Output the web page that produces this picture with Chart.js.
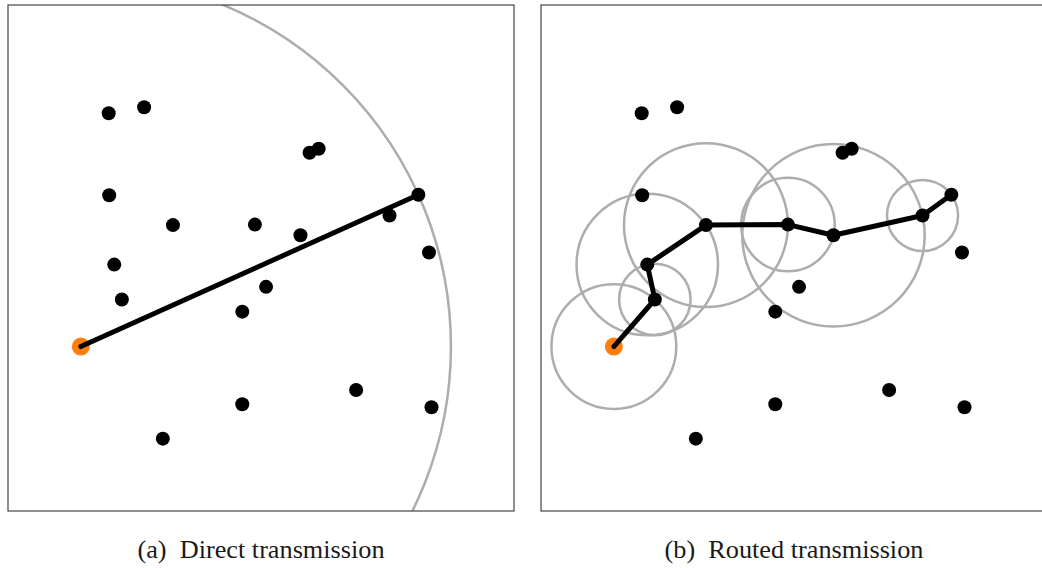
<!DOCTYPE html>
<html>
<head>
<meta charset="utf-8">
<script src="https://cdn.jsdelivr.net/npm/chart.js@4/dist/chart.umd.min.js"></script>
<style>
  html, body { margin: 0; padding: 0; background: #fff; overflow: hidden; }
  #wrap { position: relative; width: 1042px; height: 568px; overflow: hidden; }
  canvas { position: absolute; top: 0; }
  #cA { left: 0; }
  #cB { left: 533px; }
  .cap {
    position: absolute; top: 536px; width: 400px; text-align: center;
    font-family: "Liberation Serif", "DejaVu Serif", serif; font-size: 25px; color: #1a1a1a;
    white-space: pre; transform: scaleX(1.05);
  }
</style>
</head>
<body>
<div id="wrap">
  <canvas id="cA" width="522" height="520"></canvas>
  <canvas id="cB" width="522" height="520"></canvas>
  <div class="cap" style="left:61px">(a)  Direct transmission</div>
  <div class="cap" style="left:594px">(b)  Routed transmission</div>
</div>
<script>
// Sensor node positions in a 100 x 100 field
const nodeX = [19.9, 26.9, 59.6, 61.4, 20.0, 81.1, 75.4, 32.6, 48.8, 57.8, 83.2, 21.0, 22.5, 51.0, 46.3, 68.8, 46.3, 83.7, 30.6];
const nodeY = [78.6, 79.8, 70.8, 71.6, 62.4, 62.5, 58.4, 56.5, 56.6, 54.5, 51.1, 48.7, 41.8, 44.3, 39.4, 23.9, 21.1, 20.5, 14.3];
// Transmitting node
const sourceX = 14.4;
const sourceY = 32.5;
// Hop sequences as node indices (after the source)
const directRoute = [5];
const multiHopRoute = [12, 11, 7, 8, 9, 6, 5];

const nodePoints = nodeX.map((x, i) => ({ x: x, y: nodeY[i] }));
const routePoints = route => [{ x: sourceX, y: sourceY }].concat(route.map(i => nodePoints[i]));

// Range circles: each hop's circle reaches exactly to the next hop
const rangeCircles = {
  id: 'rangeCircles',
  beforeDatasetsDraw(chart) {
    const pts = chart.data.datasets[0].data;
    const xs = chart.scales.x, ys = chart.scales.y;
    const ctx = chart.ctx, area = chart.chartArea;
    ctx.save();
    ctx.beginPath();
    ctx.rect(area.left, area.top, area.right - area.left, area.bottom - area.top);
    ctx.clip();
    ctx.strokeStyle = '#adadad';
    ctx.lineWidth = 2.5;
    for (let i = 0; i < pts.length - 1; i++) {
      const cx = xs.getPixelForValue(pts[i].x), cy = ys.getPixelForValue(pts[i].y);
      const nx = xs.getPixelForValue(pts[i + 1].x), ny = ys.getPixelForValue(pts[i + 1].y);
      const r = Math.hypot(nx - cx, ny - cy);
      ctx.beginPath();
      ctx.arc(cx, cy, r, 0, Math.PI * 2);
      ctx.stroke();
    }
    ctx.restore();
  }
};

// Frame around the plotting area
const frame = {
  id: 'frame',
  afterDraw(chart) {
    const a = chart.chartArea, ctx = chart.ctx;
    ctx.save();
    ctx.strokeStyle = '#444';
    ctx.lineWidth = 1.2;
    ctx.strokeRect(a.left, a.top, a.right - a.left, a.bottom - a.top);
    ctx.restore();
  }
};

function makeChart(id, route) {
  return new Chart(document.getElementById(id), {
    type: 'scatter',
    data: {
      datasets: [
        {
          data: routePoints(route),
          showLine: true,
          borderColor: '#000',
          borderWidth: 5,
          borderCapStyle: 'round',
          borderJoinStyle: 'round',
          pointRadius: 0,
          pointHoverRadius: 0
        },
        {
          data: [{ x: sourceX, y: sourceY }],
          backgroundColor: '#ff7f0e',
          borderWidth: 0,
          pointRadius: 9
        },
        {
          data: nodePoints,
          backgroundColor: '#000',
          borderWidth: 0,
          pointRadius: 7
        }
      ]
    },
    options: {
      responsive: false,
      devicePixelRatio: 1,
      animation: false,
      events: [],
      layout: { autoPadding: false, padding: { left: 8, top: 5, right: 8, bottom: 9 } },
      plugins: { legend: { display: false }, tooltip: { enabled: false } },
      scales: {
        x: { type: 'linear', min: 0, max: 100, display: false },
        y: { type: 'linear', min: 0, max: 100, display: false }
      }
    },
    plugins: [rangeCircles, frame]
  });
}

makeChart('cA', directRoute);
makeChart('cB', multiHopRoute);
</script>
</body>
</html>
